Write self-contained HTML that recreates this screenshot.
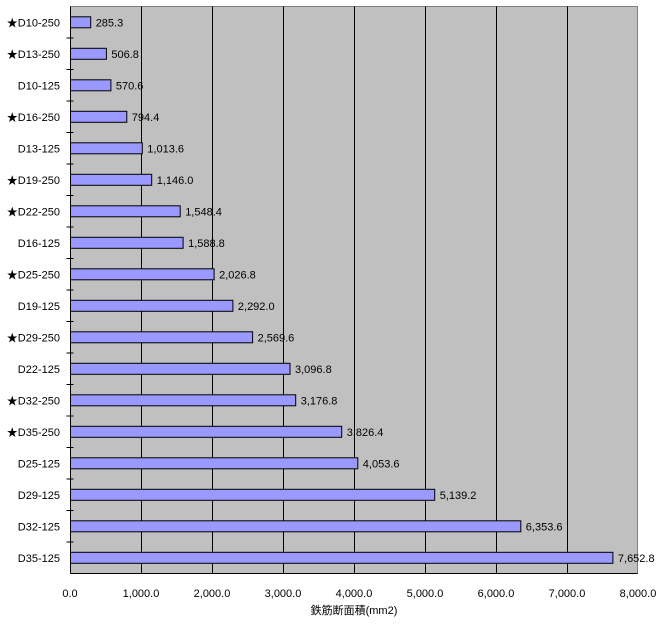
<!DOCTYPE html>
<html><head><style>body{margin:0;background:#fff}svg{display:block}text{font-family:"Liberation Sans","Noto Sans CJK JP",sans-serif;font-size:11px;fill:#000}</style></head>
<body>
<svg width="659" height="628" xmlns="http://www.w3.org/2000/svg">
<rect x="70.5" y="6.5" width="567" height="567" fill="#c0c0c0" stroke="#808080"/>
<g stroke="#000" stroke-width="1">
<line x1="141.5" y1="6.5" x2="141.5" y2="573.5"/><line x1="212.5" y1="6.5" x2="212.5" y2="573.5"/>
<line x1="283.5" y1="6.5" x2="283.5" y2="573.5"/><line x1="354.5" y1="6.5" x2="354.5" y2="573.5"/>
<line x1="425.5" y1="6.5" x2="425.5" y2="573.5"/><line x1="496.5" y1="6.5" x2="496.5" y2="573.5"/>
<line x1="567.5" y1="6.5" x2="567.5" y2="573.5"/>
<line x1="70.5" y1="6.5" x2="70.5" y2="573.5"/><line x1="70.5" y1="573.5" x2="637.5" y2="573.5"/>
<line x1="66.5" y1="38" x2="73.5" y2="38"/><line x1="66.5" y1="69.5" x2="73.5" y2="69.5"/><line x1="66.5" y1="101" x2="73.5" y2="101"/><line x1="66.5" y1="132.5" x2="73.5" y2="132.5"/><line x1="66.5" y1="164" x2="73.5" y2="164"/><line x1="66.5" y1="195.5" x2="73.5" y2="195.5"/><line x1="66.5" y1="227" x2="73.5" y2="227"/><line x1="66.5" y1="258.5" x2="73.5" y2="258.5"/><line x1="66.5" y1="290" x2="73.5" y2="290"/><line x1="66.5" y1="321.5" x2="73.5" y2="321.5"/><line x1="66.5" y1="353" x2="73.5" y2="353"/><line x1="66.5" y1="384.5" x2="73.5" y2="384.5"/><line x1="66.5" y1="416" x2="73.5" y2="416"/><line x1="66.5" y1="447.5" x2="73.5" y2="447.5"/><line x1="66.5" y1="479" x2="73.5" y2="479"/><line x1="66.5" y1="510.5" x2="73.5" y2="510.5"/><line x1="66.5" y1="542" x2="73.5" y2="542"/>
</g>
<g fill="#9999ff" stroke="#000">
<rect x="70.5" y="16.8" width="20.2" height="11"/>
<rect x="70.5" y="48.3" width="35.9" height="11"/>
<rect x="70.5" y="79.8" width="40.4" height="11"/>
<rect x="70.5" y="111.3" width="56.3" height="11"/>
<rect x="70.5" y="142.8" width="71.8" height="11"/>
<rect x="70.5" y="174.3" width="81.2" height="11"/>
<rect x="70.5" y="205.8" width="109.7" height="11"/>
<rect x="70.5" y="237.3" width="112.6" height="11"/>
<rect x="70.5" y="268.8" width="143.6" height="11"/>
<rect x="70.5" y="300.3" width="162.4" height="11"/>
<rect x="70.5" y="331.8" width="182.1" height="11"/>
<rect x="70.5" y="363.3" width="219.5" height="11"/>
<rect x="70.5" y="394.8" width="225.2" height="11"/>
<rect x="70.5" y="426.3" width="271.2" height="11"/>
<rect x="70.5" y="457.8" width="287.3" height="11"/>
<rect x="70.5" y="489.3" width="364.2" height="11"/>
<rect x="70.5" y="520.8" width="450.3" height="11"/>
<rect x="70.5" y="552.3" width="542.4" height="11"/>
</g>
<g>
<text x="95.7" y="26.3">285.3</text>
<text x="111.4" y="57.8">506.8</text>
<text x="115.9" y="89.3">570.6</text>
<text x="131.8" y="120.8">794.4</text>
<text x="147.3" y="152.3">1,013.6</text>
<text x="156.7" y="183.8">1,146.0</text>
<text x="185.2" y="215.3">1,548.4</text>
<text x="188.1" y="246.8">1,588.8</text>
<text x="219.1" y="278.3">2,026.8</text>
<text x="237.9" y="309.8">2,292.0</text>
<text x="257.6" y="341.3">2,569.6</text>
<text x="295" y="372.8">3,096.8</text>
<text x="300.7" y="404.3">3,176.8</text>
<text x="346.7" y="435.8">3,826.4</text>
<text x="362.8" y="467.3">4,053.6</text>
<text x="439.7" y="498.8">5,139.2</text>
<text x="525.8" y="530.3">6,353.6</text>
<text x="617.9" y="561.8">7,652.8</text>
</g>
<g text-anchor="end">
<text x="60" y="26.3">★D10-250</text>
<text x="60" y="57.8">★D13-250</text>
<text x="60" y="89.3">D10-125</text>
<text x="60" y="120.8">★D16-250</text>
<text x="60" y="152.3">D13-125</text>
<text x="60" y="183.8">★D19-250</text>
<text x="60" y="215.3">★D22-250</text>
<text x="60" y="246.8">D16-125</text>
<text x="60" y="278.3">★D25-250</text>
<text x="60" y="309.8">D19-125</text>
<text x="60" y="341.3">★D29-250</text>
<text x="60" y="372.8">D22-125</text>
<text x="60" y="404.3">★D32-250</text>
<text x="60" y="435.8">★D35-250</text>
<text x="60" y="467.3">D25-125</text>
<text x="60" y="498.8">D29-125</text>
<text x="60" y="530.3">D32-125</text>
<text x="60" y="561.8">D35-125</text>
</g>
<g text-anchor="middle">
<text x="70" y="597">0.0</text><text x="141" y="597">1,000.0</text><text x="212" y="597">2,000.0</text><text x="283" y="597">3,000.0</text><text x="354" y="597">4,000.0</text><text x="425" y="597">5,000.0</text><text x="496" y="597">6,000.0</text><text x="567" y="597">7,000.0</text><text x="638" y="597">8,000.0</text>
<text x="354" y="614">鉄筋断面積(mm2)</text>
</g>
</svg>
</body></html>
